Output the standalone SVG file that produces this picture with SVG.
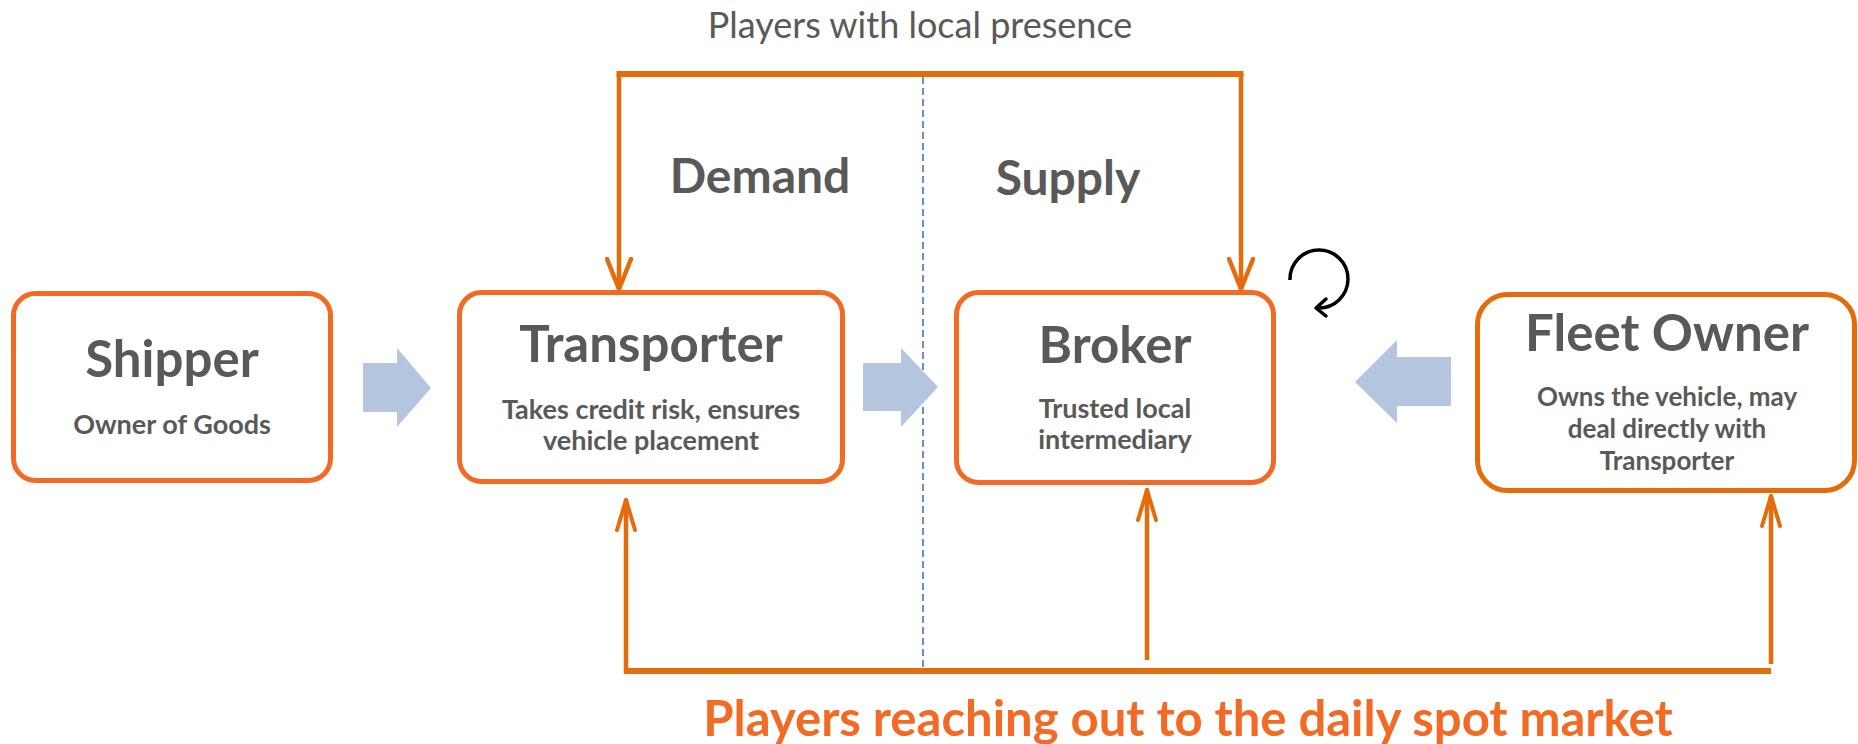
<svg xmlns="http://www.w3.org/2000/svg" width="1858" height="744" viewBox="0 0 1858 744">
<defs>
<style>
.box{fill:#fff;stroke:#F26A24;stroke-width:5}
.title{font-family:Lato,"Liberation Sans",sans-serif;font-weight:700;font-size:51px;fill:#595959;text-anchor:middle}
.sub{font-family:Lato,"Liberation Sans",sans-serif;font-weight:700;font-size:27px;fill:#595959;text-anchor:middle}
.side{font-family:Lato,"Liberation Sans",sans-serif;font-weight:700;font-size:48px;fill:#595959;text-anchor:middle}
.con{fill:none;stroke:#E46C0A;stroke-width:4.5}
.bar{fill:none;stroke:#E46C0A;stroke-width:6}
.blue{fill:#B4C5E0}
</style>
<marker id="ah" markerUnits="userSpaceOnUse" viewBox="-32 -14 34 28" refX="0" refY="0" markerWidth="34" markerHeight="28" orient="auto">
<path d="M-30,-12 L0,0 L-30,12" fill="none" stroke="#E46C0A" stroke-width="4.5" stroke-linecap="round"/>
</marker>
<marker id="ahn" markerUnits="userSpaceOnUse" viewBox="-32 -14 34 28" refX="0" refY="0" markerWidth="34" markerHeight="28" orient="auto">
<path d="M-30,-9 L0,0 L-30,9" fill="none" stroke="#E46C0A" stroke-width="4" stroke-linecap="round"/>
</marker>
</defs>
<rect width="1858" height="744" fill="#fff"/>

<text x="920" y="38" style="font-family:Lato,'Liberation Sans',sans-serif;font-size:36px;fill:#595959;text-anchor:middle">Players with local presence</text>
<text class="side" x="760" y="193">Demand</text>
<text class="side" x="1068" y="195">Supply</text>

<g id="connectors">
<line x1="923" y1="77" x2="923" y2="668" stroke="#4472C4" stroke-width="1.6" stroke-dasharray="7 4"/>
<line class="bar" x1="616.5" y1="74" x2="1243.5" y2="74"/>
<path class="con" d="M619 74 V289" marker-end="url(#ah)"/>
<path class="con" d="M1241 74 V289" marker-end="url(#ah)"/>
<line class="bar" x1="624" y1="671" x2="1771" y2="671"/>
<path class="con" d="M626 673 V500" marker-end="url(#ahn)"/>
<path class="con" d="M1147 660 V490" marker-end="url(#ahn)"/>
<path class="con" d="M1771 664 V496" marker-end="url(#ahn)"/>
<polygon class="blue" points="363,363 397,363 397,348 431,388 397,427 397,412 363,412"/>
<polygon class="blue" points="863,363 901,363 901,348 938,387 901,427 901,411 863,411"/>
<polygon class="blue" points="1451,357 1397,357 1397,340 1355,382 1397,423 1397,406 1451,406"/>
<path d="M1290 280 A29 29 0 1 1 1318 308" fill="none" stroke="#000" stroke-width="3.5"/>
<path d="M1326 299 L1316 308 L1326 316" fill="none" stroke="#000" stroke-width="3.5" stroke-linecap="round" stroke-linejoin="round"/>
</g>

<g id="shipper">
<rect class="box" x="13.5" y="293.5" width="317" height="187" rx="22"/>
<text class="title" x="172" y="377">Shipper</text>
<text class="sub" x="172" y="434">Owner of Goods</text>
</g>
<g id="transporter">
<rect class="box" x="459.5" y="292.5" width="383" height="189" rx="22"/>
<text class="title" x="651" y="362">Transporter</text>
<text class="sub" x="651" y="419">Takes credit risk, ensures</text>
<text class="sub" x="651" y="450">vehicle placement</text>
</g>
<g id="broker">
<rect class="box" x="956.5" y="292.5" width="317" height="190" rx="22"/>
<text class="title" x="1115" y="363">Broker</text>
<text class="sub" x="1115" y="418">Trusted local</text>
<text class="sub" x="1115" y="449">intermediary</text>
</g>
<g id="fleet-owner">
<rect class="box" x="1477.5" y="294.5" width="377" height="196" rx="30" style="stroke:#E46C0A"/>
<text class="title" x="1667" y="351">Fleet Owner</text>
<text class="sub" x="1667" y="406" style="font-size:26px">Owns the vehicle, may</text>
<text class="sub" x="1667" y="438" style="font-size:26px">deal directly with</text>
<text class="sub" x="1667" y="470" style="font-size:26px">Transporter</text>
</g>

<text x="1188" y="736" style="font-family:Lato,'Liberation Sans',sans-serif;font-weight:700;font-size:49px;fill:#F26A24;text-anchor:middle">Players reaching out to the daily spot market</text>
</svg>
